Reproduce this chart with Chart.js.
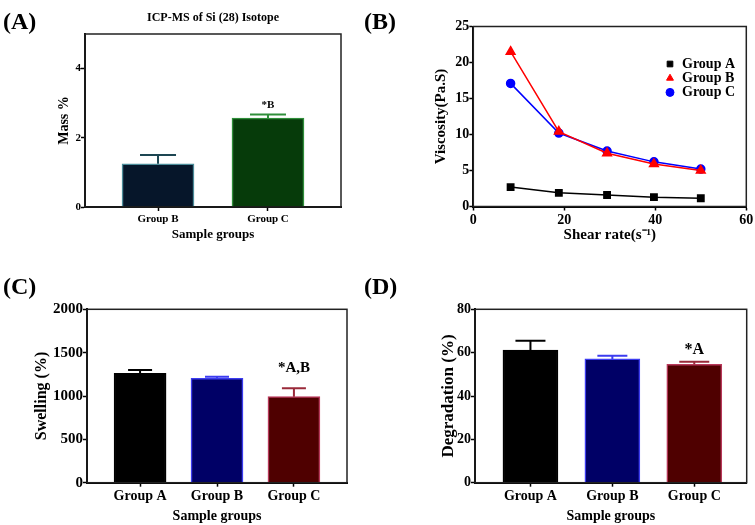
<!DOCTYPE html>
<html>
<head>
<meta charset="utf-8">
<script src="https://cdn.jsdelivr.net/npm/chart.js@4.4.0/dist/chart.umd.min.js"></script>
<style>
  body { margin: 0; background: #fff; }
  #wrap { position: relative; width: 755px; height: 525px; font-family: 'Liberation Serif', 'Times New Roman', serif; font-weight: bold; color: #000; }
  canvas { position: absolute; }
  .tag { position: absolute; font-size: 24px; line-height: 24px; }
  .ttl { position: absolute; font-size: 12px; line-height: 14px; text-align: center; width: 220px; }
</style>
</head>
<body>
<div id="wrap">
  <canvas id="chartA" width="375" height="260" style="left:0;top:0"></canvas>
  <canvas id="chartB" width="380" height="260" style="left:375px;top:0"></canvas>
  <canvas id="chartC" width="375" height="265" style="left:0;top:260px"></canvas>
  <canvas id="chartD" width="380" height="265" style="left:375px;top:260px"></canvas>
  <div class="tag" style="left:3px;top:9px">(A)</div>
  <div class="tag" style="left:364px;top:9px">(B)</div>
  <div class="tag" style="left:3px;top:274px">(C)</div>
  <div class="tag" style="left:364px;top:274px">(D)</div>
  <div class="ttl" style="left:103px;top:10px">ICP-MS of Si (28) Isotope</div>
</div>
<script>
// (A) ICP-MS of Si (28)
const icpGroups = ['Group B', 'Group C'];
const icpMass = [1.25, 2.57];
const icpErr = [0.25, 0.10];
const icpNotes = ['', '*B'];

// (B) viscosity vs shear rate
const shearRate = [8.2, 18.8, 29.4, 39.7, 50];
const viscNames = ['Group A', 'Group B', 'Group C'];
const viscA = [2.7, 1.9, 1.6, 1.3, 1.15];
const viscB = [21.5, 10.4, 7.4, 5.9, 5.0];
const viscC = [17.1, 10.2, 7.7, 6.2, 5.2];

// (C) swelling and (D) degradation
const groups = ['Group A', 'Group B', 'Group C'];
const swelling = [1262, 1204, 992];
const swellingErr = [38, 19, 97];
const swellingNotes = ['', '', '*A,B'];
const degradation = [61.2, 57.1, 54.6];
const degradationErr = [4.3, 1.5, 1.2];
const degradationNotes = ['', '', '*A'];

Chart.defaults.font.family = "'Liberation Serif', 'Times New Roman', serif";
Chart.defaults.font.weight = 'bold';
Chart.defaults.color = '#000';

const F = (size) => ({ size, weight: 'bold' });

// frame around plot + error bars / notes + inner legend
const framePlugin = {
  id: 'frame',
  afterDatasetsDraw(chart) {
    const { ctx, chartArea: a } = chart;
    ctx.save();
    ctx.strokeStyle = '#222';
    ctx.lineWidth = 1.5;
    ctx.strokeRect(a.left, a.top, a.right - a.left, a.bottom - a.top);
    ctx.restore();
  }
};

const errPlugin = {
  id: 'errbars',
  afterDatasetsDraw(chart, args, o) {
    if (!o.err) return;
    const ctx = chart.ctx;
    const ds = chart.data.datasets[0];
    const y = chart.scales.y;
    ctx.save();
    chart.getDatasetMeta(0).data.forEach((bar, i) => {
      const top = y.getPixelForValue(ds.data[i].y + o.err[i]);
      ctx.strokeStyle = o.colors[i];
      ctx.lineWidth = 2;
      ctx.beginPath();
      ctx.moveTo(bar.x, bar.y);
      ctx.lineTo(bar.x, top);
      ctx.moveTo(bar.x - o.cap / 2, top);
      ctx.lineTo(bar.x + o.cap / 2, top);
      ctx.stroke();
      if (o.notes && o.notes[i]) {
        ctx.fillStyle = '#000';
        ctx.font = `bold ${o.noteSize}px 'Liberation Serif', serif`;
        ctx.textAlign = 'center';
        ctx.textBaseline = 'middle';
        ctx.fillText(o.notes[i], bar.x, top - o.gap);
      }
    });
    ctx.restore();
  }
};

const innerLegend = {
  id: 'innerLegend',
  afterDraw(chart, args, o) {
    if (!o.show) return;
    const { ctx, chartArea: a } = chart;
    ctx.save();
    chart.data.datasets.forEach((ds, i) => {
      const x = a.left + o.left;
      const y = a.top + o.top + i * o.row;
      ctx.fillStyle = ds.backgroundColor;
      ctx.strokeStyle = ds.borderColor;
      Chart.helpers.drawPoint(ctx, { pointStyle: ds.pointStyle, radius: o.radius, borderWidth: 1 }, x, y);
      ctx.fillStyle = '#000';
      ctx.font = "bold 14px 'Liberation Serif', serif";
      ctx.textAlign = 'left';
      ctx.textBaseline = 'middle';
      ctx.fillText(ds.label, x + 12, y);
    });
    ctx.restore();
  }
};

function axisCommon() {
  return {
    offset: false,
    grid: { display: true, offset: false, drawOnChartArea: false, drawTicks: true, tickLength: 4, tickColor: '#000', tickWidth: 1.5 },
    border: { display: true, color: '#000', width: 2 }
  };
}

function barPanel(id, cats, vals, errs, notes, cfg) {
  return new Chart(document.getElementById(id), {
    type: 'bar',
    data: {
      datasets: [{
        data: vals.map((v, i) => ({ x: i + 1, y: v })),
        backgroundColor: cfg.fill,
        borderColor: cfg.border,
        borderWidth: 1.5,
        barThickness: cfg.barW
      }]
    },
    options: {
      responsive: false,
      animation: false,
      devicePixelRatio: 1,
      layout: { padding: cfg.pad },
      plugins: {
        legend: { display: false },
        tooltip: { enabled: false },
        errbars: { err: errs, colors: cfg.errColor, cap: cfg.cap, notes, noteSize: cfg.noteSize, gap: cfg.gap }
      },
      scales: {
        x: {
          type: 'linear', min: cfg.xMin, max: cfg.xMax, bounds: 'data',
          afterBuildTicks: (s) => { s.ticks = cats.map((c, i) => ({ value: i + 1 })); },
          afterFit: (s) => { s.height = cfg.xH; },
          ticks: { autoSkip: false, maxRotation: 0, padding: cfg.xPad, font: F(cfg.xTick), callback: (v, i) => cats[i] },
          title: { display: true, text: 'Sample groups', font: F(cfg.xTitle), padding: { top: 0, bottom: cfg.xTitlePad } },
          ...axisCommon()
        },
        y: {
          min: 0, max: cfg.yMax,
          afterFit: (s) => { s.width = cfg.yW; },
          ticks: { stepSize: cfg.step, includeBounds: false, padding: 0, font: F(cfg.yTick), callback: (v) => String(v) },
          title: { display: true, text: cfg.yLabel, font: F(cfg.yTitle), padding: { top: cfg.yTitlePad, bottom: 0 } },
          ...axisCommon()
        }
      }
    },
    plugins: [errPlugin, framePlugin]
  });
}

// (A)
barPanel('chartA', icpGroups, icpMass, icpErr, icpNotes, {
  fill: ['#06162a', '#063b0a'], border: ['#4b8c99', '#2f8f3a'], errColor: ['#1d4652', '#2f8f3a'],
  barW: 72, cap: 36, noteSize: 11, gap: 9,
  pad: { left: 50, right: 34, top: 34, bottom: 15 },
  xMin: 0.336, xMax: 2.664, xH: 38, xPad: 1.4, xTick: 11, xTitle: 13, xTitlePad: 3,
  yMax: 5, step: 2, yW: 35, yTick: 11, yLabel: 'Mass %', yTitle: 14, yTitlePad: 6
});

// (C)
barPanel('chartC', groups, swelling, swellingErr, swellingNotes, {
  fill: ['#000000', '#000066', '#4f0000'], border: ['#000000', '#3c3cf0', '#b8385a'], errColor: ['#000000', '#3c3cf0', '#9a2a3a'],
  barW: 52, cap: 24, noteSize: 15, gap: 20,
  pad: { left: 28, right: 28, top: 49.3, bottom: 0 },
  xMin: 0.31, xMax: 3.69, xH: 42.3, xPad: 1, xTick: 14, xTitle: 14, xTitlePad: 0,
  yMax: 2000, step: 500, yW: 59, yTick: 15, yLabel: 'Swelling (%)', yTitle: 16, yTitlePad: 4
});

// (D)
barPanel('chartD', groups, degradation, degradationErr, degradationNotes, {
  fill: ['#000000', '#000066', '#4f0000'], border: ['#000000', '#3c3cf0', '#b8385a'], errColor: ['#000000', '#3c3cf0', '#9a2a3a'],
  barW: 55, cap: 30, noteSize: 16, gap: 12,
  pad: { left: 58, right: 8.3, top: 49.3, bottom: 0 },
  xMin: 0.323, xMax: 3.64, xH: 42.3, xPad: 1, xTick: 14, xTitle: 14, xTitlePad: 0,
  yMax: 80, step: 20, yW: 42, yTick: 14, yLabel: 'Degradation (%)', yTitle: 17, yTitlePad: 5
});

// (B)
const viscColors = ['#000000', '#ff0000', '#0000ff'];
const viscStyles = ['rect', 'triangle', 'circle'];
const viscRadius = [4.5, 5, 4];
new Chart(document.getElementById('chartB'), {
  type: 'scatter',
  data: {
    datasets: [viscA, viscB, viscC].map((vals, k) => ({
      label: viscNames[k],
      data: vals.map((v, i) => ({ x: shearRate[i], y: v })),
      showLine: true,
      borderColor: viscColors[k],
      backgroundColor: viscColors[k],
      borderWidth: 1.5,
      pointStyle: viscStyles[k],
      pointRadius: viscRadius[k]
    }))
  },
  options: {
    responsive: false,
    animation: false,
    devicePixelRatio: 1,
    layout: { padding: { left: 52, right: 8.3, top: 26.5, bottom: 12 } },
    plugins: {
      legend: { display: false },
      tooltip: { enabled: false },
      innerLegend: { show: true, left: 196.7, top: 37.5, row: 14.2, radius: 4 }
    },
    scales: {
      x: {
        type: 'linear', min: 0, max: 60,
        afterFit: (s) => { s.height = 41.5; },
        ticks: { stepSize: 20, padding: 1.7, font: F(14) },
        title: { display: true, text: 'Shear rate(s\u207B\u00B9)', font: F(15), padding: { top: 0, bottom: 3.5 } },
        ...axisCommon()
      },
      y: {
        min: 0, max: 25,
        afterFit: (s) => { s.width = 46.3; },
        ticks: { stepSize: 5, padding: 0, font: F(14) },
        title: { display: true, text: 'Viscosity(Pa.S)', font: F(15), padding: { top: 5, bottom: 0 } },
        ...axisCommon()
      }
    }
  },
  plugins: [innerLegend, framePlugin]
});
</script>
</body>
</html>
